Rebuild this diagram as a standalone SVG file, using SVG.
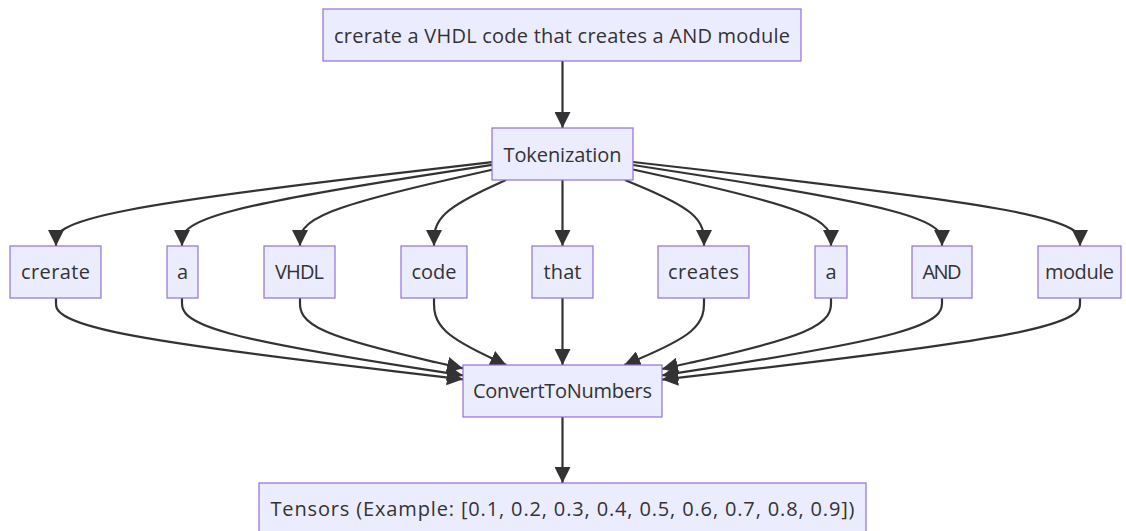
<svg xmlns="http://www.w3.org/2000/svg" width="1126" height="531" viewBox="0 0 1126 531">
  <style>
    .node rect { fill: #ECECFF; stroke: #9370DB; stroke-width: 1.2; }
    .node text { font-family: "Open Sans", "DejaVu Sans", sans-serif; font-size: 20px; fill: #333333; text-anchor: middle; dominant-baseline: central; }
    .edges path { fill: none; stroke: #333333; stroke-width: 2.2; marker-end: url(#arrow); }
  </style>
  <defs>
    <marker id="arrow" viewBox="0 0 10 10" refX="10" refY="5" markerUnits="userSpaceOnUse" markerWidth="16" markerHeight="16" orient="auto">
      <path d="M0,0 L10,5 L0,10 z" fill="#333333"/>
    </marker>
  </defs>
  <rect width="1126" height="531" fill="#ffffff"/>

  <g class="edges">
    <!-- prompt to tokenizer -->
    <path d="M562.5,61 L562.5,128"/>
    <!-- tokenizer to tokens -->
    <path d="M492,162.2 L419.3,170.7 C346.7,179.1 201.3,196.1 128.7,210 C56,224 56,235 56,240.5 L56,246"/>
    <path d="M492,164.9 L440.3,172.9 C388.7,180.9 285.3,197 233.7,210.5 C182,224 182,235 182,240.5 L182,246"/>
    <path d="M492,169.8 L460,177 C428,184.2 364,198.6 332,211.3 C300,224 300,235 300,240.5 L300,246"/>
    <path d="M505.9,180 L493.9,185.5 C481.9,191 458,202 446,213 C434,224 434,235 434,240.5 L434,246"/>
    <path d="M562.5,180 L562.5,246"/>
    <path d="M624.9,180 L638.1,185.5 C651.3,191 677.6,202 690.8,213 C704,224 704,235 704,240.5 L704,246"/>
    <path d="M633,169.5 L666,176.75 C699,184 765,198.5 798,211.25 C831,224 831,235 831,240.5 L831,246"/>
    <path d="M633,165 L684.5,173 C736,181 839,197 890.5,210.5 C942,224 942,235 942,240.5 L942,246"/>
    <path d="M633,162 L707.5,170.5 C782,179 931,196 1005.5,210 C1080,224 1080,235 1080,240.5 L1080,246"/>
    <!-- tokens to converter -->
    <path d="M56,298 L56,303.6 C56,309.2 56,320.3 123.8,333.9 C191.7,347.4 327.3,363.4 395.2,371.3 L463,379.3"/>
    <path d="M182,298 L182,303.6 C182,309.2 182,320.3 228.8,333.2 C275.7,346.1 369.3,360.8 416.2,368.1 L463,375.4"/>
    <path d="M300,298 L300,303.6 C300,309.2 300,320.3 327.2,332.1 C354.3,343.8 408.7,356.1 435.8,362.3 L463,368.4"/>
    <path d="M434,298 L434,303.6 C434,309.2 434,320.3 446.1,331.5 C458.1,342.7 482.2,353.8 494.3,359.4 L506.3,365"/>
    <path d="M562.5,298 L562.5,365"/>
    <path d="M704,298 L704,303.6 C704,309.2 704,320.3 690.7,331.5 C677.4,342.7 650.9,353.8 637.6,359.4 L624.3,365"/>
    <path d="M831,298 L831,303.6 C831,309.2 831,320.3 802.8,332.2 C774.7,344 718.3,356.5 690.2,362.75 L662,369"/>
    <path d="M942,298 L942,303.6 C942,309.2 942,320.3 895.3,333.2 C848.7,346.1 755.3,360.8 708.7,368.1 L662,375.4"/>
    <path d="M1080,298 L1080,303.6 C1080,309.2 1080,320.3 1010.3,333.9 C940.7,347.5 801.3,363.6 731.7,371.6 L662,379.6"/>
    <!-- converter to tensors -->
    <path d="M562.5,417 L562.5,483"/>
  </g>

  <g id="prompt" class="node"><rect x="323" y="9" width="478" height="52"/><text x="562" y="35" textLength="456">crerate a VHDL code that creates a AND module</text></g>
  <g id="tokenization" class="node"><rect x="492" y="128" width="141" height="52"/><text x="562.5" y="154" textLength="118">Tokenization</text></g>
  <g id="tok-crerate" class="node"><rect x="10" y="246" width="91" height="52"/><text x="55.5" y="271" textLength="69">crerate</text></g>
  <g id="tok-a1" class="node"><rect x="167" y="246" width="31" height="52"/><text x="182.5" y="271">a</text></g>
  <g id="tok-vhdl" class="node"><rect x="264" y="246" width="71" height="52"/><text x="299.5" y="271" textLength="49">VHDL</text></g>
  <g id="tok-code" class="node"><rect x="401" y="246" width="66" height="52"/><text x="434" y="271" textLength="45">code</text></g>
  <g id="tok-that" class="node"><rect x="532" y="246" width="61" height="52"/><text x="562.5" y="271" textLength="38">that</text></g>
  <g id="tok-creates" class="node"><rect x="658" y="246" width="91" height="52"/><text x="703.5" y="271" textLength="71">creates</text></g>
  <g id="tok-a2" class="node"><rect x="815" y="246" width="32" height="52"/><text x="831" y="271">a</text></g>
  <g id="tok-and" class="node"><rect x="912" y="246" width="60" height="52"/><text x="942" y="271" textLength="39">AND</text></g>
  <g id="tok-module" class="node"><rect x="1038" y="246" width="83" height="52"/><text x="1079.5" y="271" textLength="69">module</text></g>
  <g id="convert" class="node"><rect x="463" y="365" width="199" height="52"/><text x="562.5" y="390" textLength="179">ConvertToNumbers</text></g>
  <g id="tensors" class="node"><rect x="259" y="483" width="607" height="52"/><text x="562.5" y="508" textLength="584">Tensors (Example: [0.1, 0.2, 0.3, 0.4, 0.5, 0.6, 0.7, 0.8, 0.9])</text></g>
</svg>
